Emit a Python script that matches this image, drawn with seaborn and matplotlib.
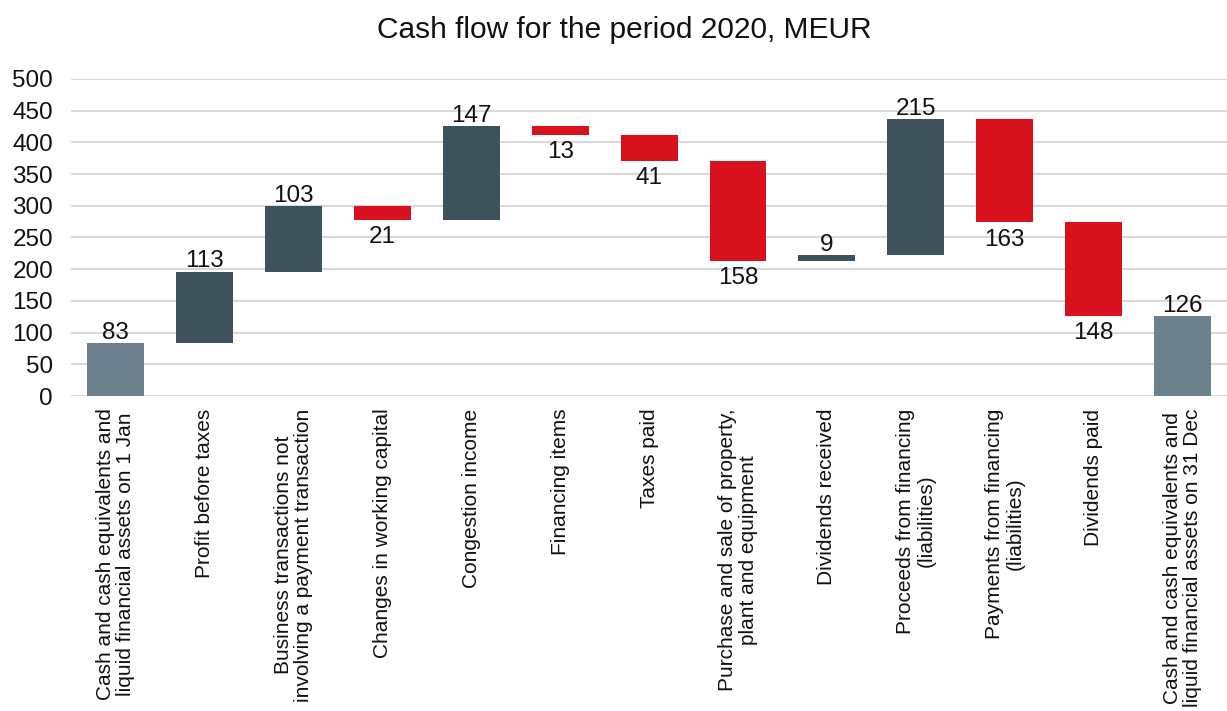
import matplotlib
matplotlib.use("Agg")
import matplotlib.pyplot as plt
import seaborn as sns
import pandas as pd

categories = [
    "Cash and cash equivalents and\nliquid financial assets on 1 Jan",
    "Profit before taxes",
    "Business transactions not\ninvolving a payment transaction",
    "Changes in working capital",
    "Congestion income",
    "Financing items",
    "Taxes paid",
    "Purchase and sale of property,\nplant and equipment",
    "Dividends received",
    "Proceeds from financing\n(liabilities)",
    "Payments from financing\n(liabilities)",
    "Dividends paid",
    "Cash and cash equivalents and\nliquid financial assets on 31 Dec",
]
changes = [83, 113, 103, -21, 147, -13, -41, -158, 9, 215, -163, -148, 126]
kinds = ["total", "up", "up", "down", "up", "down", "down", "down", "up", "up", "down", "down", "total"]
yticks = [0, 50, 100, 150, 200, 250, 300, 350, 400, 450, 500]

colors = {"total": "#6d818c", "up": "#3d525b", "down": "#d7121e"}

# compute bottoms / tops
bottoms, tops = [], []
run = 0
for v, k in zip(changes, kinds):
    if k == "total":
        b, t = 0, v
        run = v
    else:
        b, t = (run, run + v) if v >= 0 else (run + v, run)
        run += v
    bottoms.append(b)
    tops.append(t)

df = pd.DataFrame({
    "cat": categories,
    "height": [t - b for b, t in zip(bottoms, tops)],
    "bottom": bottoms,
    "top": tops,
    "kind": kinds,
    "label": [str(abs(v)) for v in changes],
})

sns.set_theme(style="white")
plt.rcParams["font.family"] = ["Liberation Sans", "DejaVu Sans"]

fig = plt.figure(figsize=(12.27, 7.11), dpi=100)
ax = fig.add_axes([0.058, 0.443, 0.942, 0.446])

palette = [colors[k] for k in kinds]
sns.barplot(data=df, x="cat", y="height", hue="cat", palette=palette,
            legend=False, width=0.64, ax=ax, saturation=1,
            edgecolor="none", linewidth=0)

for i, cont in enumerate(ax.containers):
    for p in cont.patches:
        p.set_y(df["bottom"][i])

for i, row in df.iterrows():
    if row["kind"] == "down":
        ax.text(i, row["bottom"] - 10, row["label"], ha="center", va="top", fontsize=17.5, color="#111111")
    else:
        ax.text(i, row["top"] - 1, row["label"], ha="center", va="bottom", fontsize=17.5, color="#111111")

ax.set_ylim(0, 500)
ax.set_xlim(-0.5, len(categories) - 0.5)
ax.set_yticks(yticks)
ax.set_yticklabels([str(t) for t in yticks], fontsize=17.5, color="#111111")
ax.yaxis.grid(True, color="#d9d9d9", linewidth=1.5)
ax.set_axisbelow(True)
for s in ax.spines.values():
    s.set_visible(False)
ax.tick_params(axis="both", length=0)
ax.tick_params(axis="y", pad=13)
ax.set_xlabel("")
ax.set_ylabel("")
ax.set_xticks(range(len(categories)))
ax.set_xticklabels(categories, rotation=90, fontsize=15, color="#111111",
                   ha="center", va="top", multialignment="center", linespacing=1.1)
ax.tick_params(axis="x", pad=9)

fig.text(0.509, 0.958, "Cash flow for the period 2020, MEUR", ha="center", va="center",
         fontsize=21.5, color="#111111")

fig.savefig("out.png", dpi=100)
